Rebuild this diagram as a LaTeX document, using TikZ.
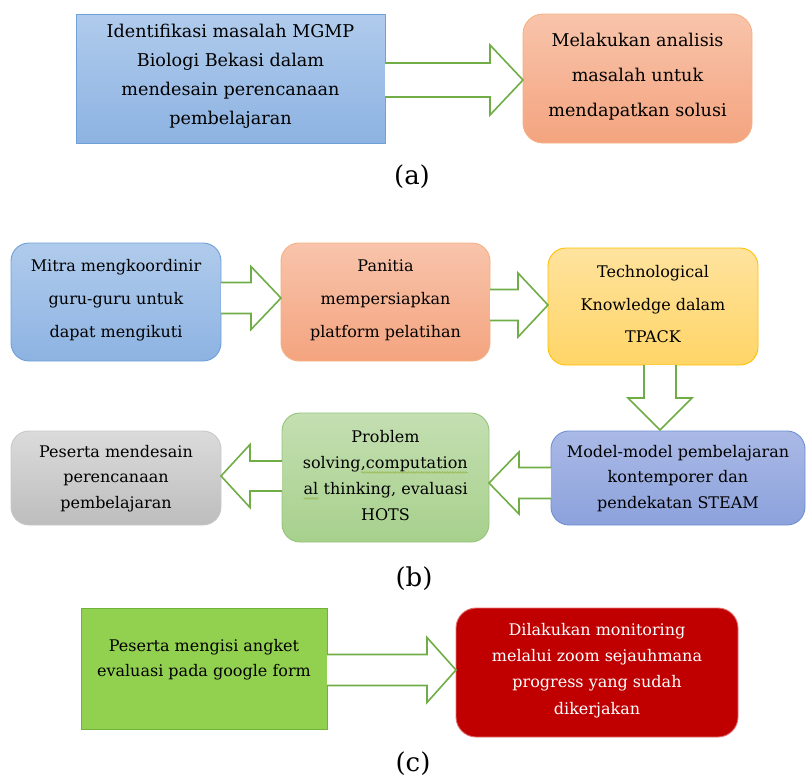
\documentclass[tikz,border=0pt]{standalone}
\usepackage{fontspec}
\setmainfont{DejaVu Serif}
\usetikzlibrary{calc,decorations.pathmorphing}
\definecolor{blueT}{HTML}{B0CBEC}\definecolor{blueB}{HTML}{8DB3E2}\definecolor{blueD}{HTML}{6FA0D8}
\definecolor{salT}{HTML}{F8C4AB}\definecolor{salB}{HTML}{F4A47F}\definecolor{salD}{HTML}{F4B183}
\definecolor{yelT}{HTML}{FFE39E}\definecolor{yelB}{HTML}{FFD567}\definecolor{yelD}{HTML}{FFC000}
\definecolor{perT}{HTML}{AAB9E6}\definecolor{perB}{HTML}{8CA2DC}\definecolor{perD}{HTML}{6F8FD3}
\definecolor{grnT}{HTML}{C4DFB2}\definecolor{grnB}{HTML}{A7D08C}\definecolor{grnD}{HTML}{94C47A}
\definecolor{gryT}{HTML}{DBDBDB}\definecolor{gryB}{HTML}{BDBDBD}\definecolor{gryD}{HTML}{C8C8C8}
\definecolor{lime}{HTML}{92D050}\definecolor{limeD}{HTML}{6FB33A}
\definecolor{darkred}{HTML}{C00000}\definecolor{redD}{HTML}{E27272}
\definecolor{arr}{HTML}{70AD47}\definecolor{wavy}{HTML}{9BBB59}
\newcommand\rarrow[5]{\draw[blk] let \p1=(#1),\p2=(#2) in (\x1,\y2+#3) -- (\x2-#5,\y2+#3) -- (\x2-#5,\y2+#4) -- (\x2,\y2) -- (\x2-#5,\y2-#4) -- (\x2-#5,\y2-#3) -- (\x1,\y2-#3);}
\newcommand\larrow[5]{\draw[blk] let \p1=(#1),\p2=(#2) in (\x1,\y2+#3) -- (\x2+#5,\y2+#3) -- (\x2+#5,\y2+#4) -- (\x2,\y2) -- (\x2+#5,\y2-#4) -- (\x2+#5,\y2-#3) -- (\x1,\y2-#3);}
\newcommand\darrow[5]{\draw[blk] let \p1=(#1),\p2=(#2) in (\x1+#3,\y1) -- (\x1+#3,\y2+#5) -- (\x1+#4,\y2+#5) -- (\x1,\y2) -- (\x1-#4,\y2+#5) -- (\x1-#3,\y2+#5) -- (\x1-#3,\y1);}
\newcommand\squig[1]{\tikz[baseline=(sq.base)]{\node[inner sep=0pt,outer sep=0pt] (sq) {#1};\draw[wavy, line width=0.7pt, decorate, decoration={snake, segment length=2.6pt, amplitude=0.8pt}] ([yshift=-3.5pt]sq.base west) -- ([yshift=-3.5pt]sq.base east);}}
\begin{document}
\begin{tikzpicture}[x=1pt,y=-1pt,
  box/.style={draw, line width=0.9pt, anchor=north west, inner sep=0pt, outer sep=0pt},
  rbox/.style={box, rounded corners=18pt},
  txt/.style={align=center, inner sep=0pt, text=black},
  blk/.style={draw=arr, line width=1.6pt, fill=white, line join=miter},
  captxt/.style={inner sep=0pt, font=\fontsize{26}{30}\selectfont}]
\useasboundingbox (0,0) rectangle (806,780);
% (a)
\node[box, draw=blueD, top color=blueT, bottom color=blueB, minimum width=309pt, minimum height=129pt] (A1) at (76,14) {};
\node[rbox, rounded corners=20pt, draw=salD, top color=salT, bottom color=salB, minimum width=229pt, minimum height=129pt] (A2) at (523,14) {};
\node[txt, font=\fontsize{17.6}{29}\selectfont] (A1t) at ($(A1.center)+(0,-2)$) {Identifikasi masalah MGMP\\Biologi Bekasi dalam\\mendesain perencanaan\\pembelajaran};
\node[txt, font=\fontsize{17.6}{35}\selectfont] (A2t) at ($(A2.center)+(0,-1.5)$) {Melakukan analisis\\masalah untuk\\mendapatkan solusi};
\rarrow{A1.east}{$(A2.west)+(0,1.5)$}{17pt}{35pt}{33pt}
\node[captxt] (capa) at (412,177) {(a)};
% (b) row 1
\node[rbox, draw=blueD, top color=blueT, bottom color=blueB, minimum width=210pt, minimum height=118pt] (B1) at (11,243) {};
\node[rbox, draw=salD, top color=salT, bottom color=salB, minimum width=209pt, minimum height=118pt] (B2) at (281,243) {};
\node[rbox, draw=yelD, top color=yelT, bottom color=yelB, minimum width=210pt, minimum height=117pt] (B3) at (548,248) {};
\node[txt, font=\fontsize{16}{33}\selectfont] (B1t) at ($(B1.center)+(0,-2)$) {Mitra mengkoordinir\\guru-guru untuk\\dapat mengikuti};
\node[txt, font=\fontsize{16}{33}\selectfont] (B2t) at ($(B2.center)+(0,-2)$) {Panitia\\mempersiapkan\\platform pelatihan};
\node[txt, font=\fontsize{16}{32.5}\selectfont] (B3t) at ($(B3.center)+(0,-2)$) {Technological\\Knowledge dalam\\TPACK};
\rarrow{B1.east}{$(B2.west)+(0,-4)$}{15.5pt}{31.5pt}{30pt}
\rarrow{B2.east}{$(B3.west)+(0,-1.5)$}{15.5pt}{32pt}{30pt}
% (b) row 2
\node[rbox, draw=perD, top color=perT, bottom color=perB, minimum width=254pt, minimum height=94pt] (B4) at (551,431) {};
\node[rbox, draw=grnD, top color=grnT, bottom color=grnB, minimum width=207pt, minimum height=129pt] (B5) at (282,413) {};
\node[rbox, draw=gryD, top color=gryT, bottom color=gryB, minimum width=210pt, minimum height=94pt] (B6) at (11,431) {};
\node[txt, font=\fontsize{16}{25.5}\selectfont] (B4t) at ($(B4.center)+(0,0.5)$) {Model-model pembelajaran\\kontemporer dan\\pendekatan STEAM};
\node[txt, font=\fontsize{16}{26}\selectfont] (B5t) at ($(B5.center)+(0,-1.5)$) {Problem\\solving\squig{,computation}\\\squig{al} thinking, evaluasi\\HOTS};
\node[txt, font=\fontsize{16}{25.5}\selectfont] (B6t) at ($(B6.center)+(0,0.5)$) {Peserta mendesain\\perencanaan\\pembelajaran};
\darrow{$(B3.south)+(7,0)$}{$(B4.north)+(0,-1)$}{16pt}{32pt}{32pt}
\larrow{B4.west}{$(B5.east)+(0,5.5)$}{15.5pt}{31pt}{30pt}
\larrow{B5.west}{$(B6.east)+(0,-2)$}{15pt}{31.5pt}{29pt}
\node[captxt] (capb) at (414,579) {(b)};
% (c)
\node[box, draw=limeD, fill=lime, minimum width=246pt, minimum height=121pt] (C1) at (81,608) {};
\node[rbox, rounded corners=20pt, draw=redD, fill=darkred, minimum width=282pt, minimum height=129pt] (C2) at (456,608) {};
\node[txt, font=\fontsize{16}{25}\selectfont] (C1t) at ($(C1.center)+(0,-9)$) {Peserta mengisi angket\\evaluasi pada google form};
\node[txt, text=white, font=\fontsize{16}{26.3}\selectfont] (C2t) at ($(C2.center)+(0,-2)$) {Dilakukan monitoring\\melalui zoom sejauhmana\\progress yang sudah\\dikerjakan};
\rarrow{C1.east}{$(C2.west)+(0,-2.5)$}{15.5pt}{32.5pt}{29pt}
\node[captxt] (capc) at (413,764) {(c)};
\end{tikzpicture}
\end{document}
